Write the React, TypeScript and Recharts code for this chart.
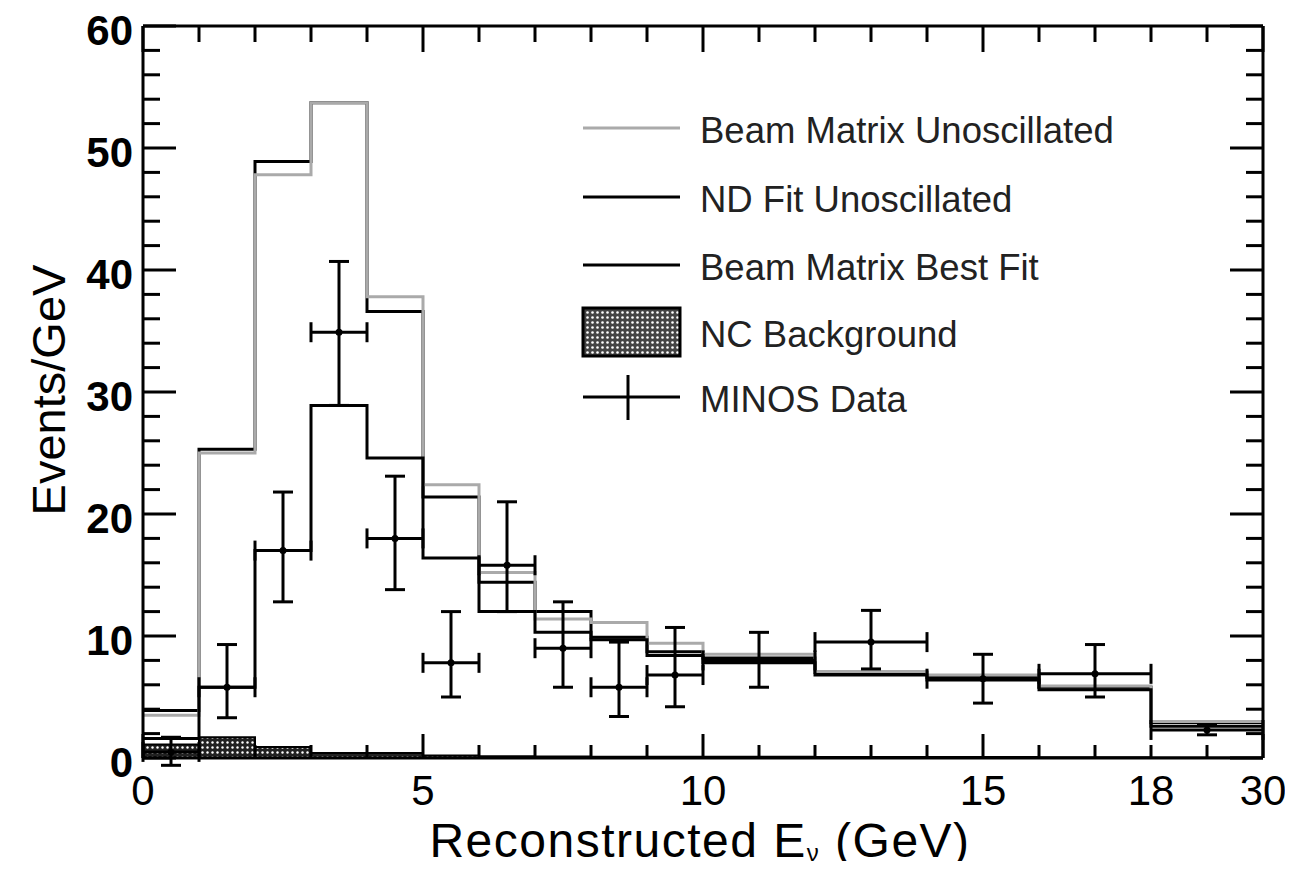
import React from 'react';
import { ComposedChart, Line, Area, Scatter, ErrorBar, XAxis, YAxis } from 'recharts';

// ---- data (bin edges in GeV; last bin 18-30 GeV is drawn compressed) ----
const binEdges = [0, 1, 2, 3, 4, 5, 6, 7, 8, 9, 10, 12, 14, 16, 18, 30];
const beamUnosc = [3.5, 25.0, 47.8, 53.7, 37.8, 22.4, 15.2, 11.4, 11.1, 9.4, 8.5, 7.1, 6.8, 5.9, 3.0];
const ndFitUnosc = [3.9, 25.3, 48.9, 53.7, 36.6, 21.4, 14.4, 12.0, 9.9, 8.7, 8.2, 7.0, 6.6, 5.8, 2.9];
const bestFit = [1.6, 5.8, 17.0, 28.9, 24.6, 16.4, 12.0, 10.3, 9.7, 8.4, 7.8, 6.8, 6.4, 5.6, 2.6];
const ncBackground = [1.1, 1.7, 0.9, 0.4, 0.4, 0.2, 0.15, 0.12, 0.1, 0.1, 0.1, 0.08, 0.08, 0.06, 0.05];
const dataValues = [0.5, 5.8, 17.0, 34.9, 18.0, 7.8, 15.8, 9.0, 5.8, 6.8, 8.0, 9.5, 6.5, 6.9, 2.3];
const dataLow = [-0.6, 3.3, 12.8, 28.9, 13.8, 5.0, 12.0, 5.8, 3.4, 4.2, 5.8, 7.3, 4.5, 5.0, 1.9];
const dataHigh = [1.7, 9.3, 21.8, 40.7, 23.1, 12.0, 21.0, 12.8, 9.5, 10.7, 10.3, 12.1, 8.5, 9.3, 2.7];

// ---- axis ticks (axis coordinate: 0..18 GeV linear, 18-30 GeV squeezed into 18..20) ----
const xTickPositions = [0, 1, 2, 3, 4, 5, 6, 7, 8, 9, 10, 11, 12, 13, 14, 15, 16, 17, 18, 19, 20];
const xMajorTicks = [0, 5, 10, 15, 20];
const xLabelPositions = [0, 5, 10, 15, 18, 20];
const xTickLabels = ['0', '5', '10', '15', '18', '30'];
const yTickPositions = [0, 2, 4, 6, 8, 10, 12, 14, 16, 18, 20, 22, 24, 26, 28, 30, 32, 34, 36, 38, 40, 42, 44, 46, 48, 50, 52, 54, 56, 58, 60];
const yMajorTicks = [0, 10, 20, 30, 40, 50, 60];

const FONT = '"Liberation Sans", Arial, Helvetica, sans-serif';

const toAxis = (e: number) => (e <= 18 ? e : 18 + (e - 18) / 6);

const histRows = binEdges.map((e, i) => {
  const k = Math.min(i, beamUnosc.length - 1);
  return {
    x: toAxis(e),
    gray: beamUnosc[k],
    nd: ndFitUnosc[k],
    bf: bestFit[k],
    nc: ncBackground[k],
  };
});

const dataRows = dataValues.map((v, i) => {
  const lo = toAxis(binEdges[i]);
  const hi = toAxis(binEdges[i + 1]);
  const c = (lo + hi) / 2;
  return {
    x: c,
    y: v,
    yErr: [v - dataLow[i], dataHigh[i] - v],
    xErr: [c - lo, hi - c],
  };
});

const BottomTick = (props: any) => {
  const { x, y, payload } = props;
  const v = payload.value;
  const major = xMajorTicks.includes(v);
  const idx = xLabelPositions.indexOf(v);
  return (
    <g>
      <line x1={x} x2={x} y1={y} y2={y - (major ? 24 : 13)} stroke="#000" strokeWidth={3} />
      {idx >= 0 && (
        <text x={x} y={y + 47} textAnchor="middle" fontSize={42} fontFamily={FONT} fill="#000">
          {xTickLabels[idx]}
        </text>
      )}
    </g>
  );
};

const TopTick = (props: any) => {
  const { x, y, payload } = props;
  const major = xMajorTicks.includes(payload.value);
  return <line x1={x} x2={x} y1={y} y2={y + (major ? 26 : 16)} stroke="#000" strokeWidth={3} />;
};

const LeftTick = (props: any) => {
  const { x, y, payload } = props;
  const v = payload.value;
  const major = yMajorTicks.includes(v);
  return (
    <g>
      <line x1={x} x2={x + (major ? 33 : 17)} y1={y} y2={y} stroke="#000" strokeWidth={3} />
      {major && (
        <text x={x - 10} y={y + 4} textAnchor="end" dominantBaseline="central" fontSize={42} fontWeight="bold" fontFamily={FONT} fill="#000">
          {String(v)}
        </text>
      )}
    </g>
  );
};

const RightTick = (props: any) => {
  const { x, y, payload } = props;
  const major = yMajorTicks.includes(payload.value);
  return <line x1={x} x2={x - (major ? 33 : 17)} y1={y} y2={y} stroke="#000" strokeWidth={3} />;
};

const DataDot = (props: any) => {
  const { cx, cy } = props;
  if (cx == null || cy == null) return null;
  return <circle cx={cx} cy={cy} r={3.5} fill="#000" />;
};

const legendItems = [
  { label: 'Beam Matrix Unoscillated', kind: 'gray' },
  { label: 'ND Fit Unoscillated', kind: 'line' },
  { label: 'Beam Matrix Best Fit', kind: 'line' },
  { label: 'NC Background', kind: 'box' },
  { label: 'MINOS Data', kind: 'data' },
];
const legendRowY = [128, 197, 265, 332, 397];

const Overlay = () => (
  <svg width={1293} height={869} style={{ position: 'absolute', left: 0, top: 0, pointerEvents: 'none' }}>
    <defs>
      <pattern id="ncPatLeg" width="5" height="5" patternUnits="userSpaceOnUse">
        <rect width="5" height="5" fill="#444" />
        <circle cx="2.5" cy="2.5" r="1.3" fill="#fff" />
      </pattern>
    </defs>
    {legendItems.map((it, i) => {
      const yy = legendRowY[i];
      return (
        <g key={it.label}>
          {it.kind === 'gray' && <line x1={583} x2={680} y1={yy} y2={yy} stroke="#aaa" strokeWidth={3} />}
          {it.kind === 'line' && <line x1={583} x2={680} y1={yy} y2={yy} stroke="#000" strokeWidth={3} />}
          {it.kind === 'box' && (
            <rect x={583} y={yy - 24} width={97} height={48} fill="url(#ncPatLeg)" stroke="#000" strokeWidth={3} />
          )}
          {it.kind === 'data' && (
            <g>
              <line x1={583} x2={680} y1={yy} y2={yy} stroke="#000" strokeWidth={3} />
              <line x1={628} x2={628} y1={yy - 22} y2={yy + 23} stroke="#000" strokeWidth={3} />
            </g>
          )}
          <text x={700} y={yy + 2} dominantBaseline="central" fontSize={36.5} fontFamily={FONT} fill="#222">
            {it.label}
          </text>
        </g>
      );
    })}
    <text
      x={0}
      y={0}
      transform="translate(48,390) rotate(-90)"
      textAnchor="middle"
      dominantBaseline="central"
      fontSize={47}
      fontFamily={FONT}
      fill="#000"
    >
      Events/GeV
    </text>
    <text x={700} y={857} textAnchor="middle" fontSize={48} letterSpacing={1.5} fontFamily={FONT} fill="#000">
      Reconstructed E
      <tspan fontSize={24} dy={4}>ν</tspan>
      <tspan dy={-4}> (GeV)</tspan>
    </text>
  </svg>
);

export default function App() {
  return (
    <div style={{ position: 'relative', width: 1277, height: 853, background: '#fff' }}>
      <div style={{ position: 'absolute', left: -8, top: -8, width: 1293, height: 869, background: '#fff' }}>
        <ComposedChart
          width={1293}
          height={869}
          data={histRows}
          margin={{ top: 25, right: 29, bottom: 51, left: 83 }}
        >
          <defs>
            <pattern id="ncPat" width="5" height="5" patternUnits="userSpaceOnUse">
              <rect width="5" height="5" fill="#222" />
              <circle cx="2.5" cy="2.5" r="1.2" fill="#fff" />
            </pattern>
          </defs>
          <XAxis
            dataKey="x"
            type="number"
            domain={[0, 20]}
            ticks={xTickPositions}
            interval={0}
            allowDataOverflow
            height={60}
            tickSize={0}
            tickMargin={0}
            tickLine={false}
            axisLine={{ stroke: '#000', strokeWidth: 3 }}
            tick={<BottomTick />}
          />
          <XAxis
            xAxisId="top"
            orientation="top"
            dataKey="x"
            type="number"
            domain={[0, 20]}
            ticks={xTickPositions}
            interval={0}
            allowDataOverflow
            height={1}
            tickSize={0}
            tickMargin={0}
            tickLine={false}
            axisLine={{ stroke: '#000', strokeWidth: 3 }}
            tick={<TopTick />}
          />
          <YAxis
            type="number"
            domain={[0, 60]}
            ticks={yTickPositions}
            interval={0}
            allowDataOverflow
            width={60}
            tickSize={0}
            tickMargin={0}
            tickLine={false}
            axisLine={{ stroke: '#000', strokeWidth: 3 }}
            tick={<LeftTick />}
          />
          <YAxis
            yAxisId="right"
            orientation="right"
            type="number"
            domain={[0, 60]}
            ticks={yTickPositions}
            interval={0}
            allowDataOverflow
            width={1}
            tickSize={0}
            tickMargin={0}
            tickLine={false}
            axisLine={{ stroke: '#000', strokeWidth: 3 }}
            tick={<RightTick />}
          />
          <Area
            type="stepAfter"
            dataKey="nc"
            stroke="#000"
            strokeWidth={2}
            fill="url(#ncPat)"
            fillOpacity={1}
            dot={false}
            activeDot={false}
            isAnimationActive={false}
          />
          <Line type="stepAfter" dataKey="nd" stroke="#000" strokeWidth={3} dot={false} activeDot={false} isAnimationActive={false} />
          <Line type="stepAfter" dataKey="gray" stroke="#aaa" strokeWidth={3} dot={false} activeDot={false} isAnimationActive={false} />
          <Line type="stepAfter" dataKey="bf" stroke="#000" strokeWidth={3} dot={false} activeDot={false} isAnimationActive={false} />
          <Scatter data={dataRows} dataKey="y" fill="#000" shape={<DataDot />} isAnimationActive={false}>
            <ErrorBar dataKey="yErr" direction="y" width={10} stroke="#000" strokeWidth={3} />
            <ErrorBar dataKey="xErr" direction="x" width={10} stroke="#000" strokeWidth={3} />
          </Scatter>
        </ComposedChart>
        <Overlay />
      </div>
    </div>
  );
}
